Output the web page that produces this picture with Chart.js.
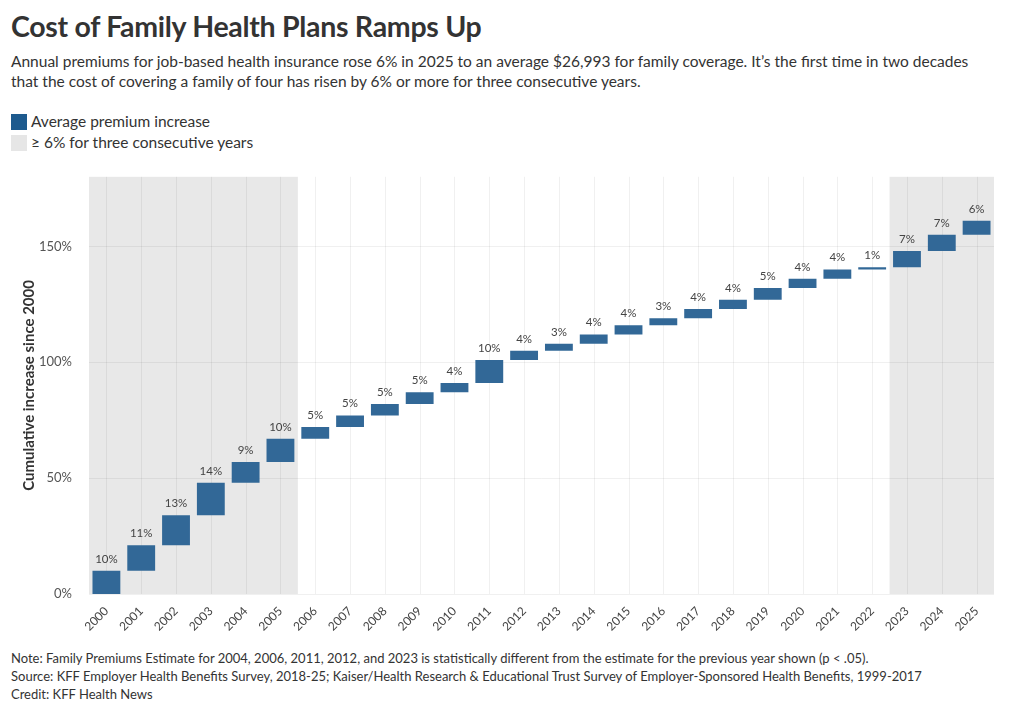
<!DOCTYPE html>
<html>
<head>
<meta charset="utf-8">
<script src="https://cdn.jsdelivr.net/npm/chart.js@4"></script>
<style>
  body { margin: 0; background: #fff; font-family: Lato, "Noto Sans", sans-serif; color: #333; }
  #wrap { position: relative; width: 1020px; height: 713px; }
  h1 { position: absolute; left: 11px; top: 9px; margin: 0; font-size: 28.5px; font-weight: bold; color: #333; letter-spacing: -0.3px; }
  .sub { position: absolute; left: 11px; top: 51px; width: 985px; font-size: 15.5px; line-height: 20px; color: #333; }
  .leg { position: absolute; left: 11px; font-size: 15.5px; color: #333; }
  .leg span { display: inline-block; width: 16px; height: 16px; vertical-align: -3px; margin-right: 4px; }
  .notes { position: absolute; left: 11px; top: 649px; font-size: 13px; line-height: 18px; color: #333; }
  #box { position: absolute; left: 0; top: 160px; width: 1020px; height: 480px; }
</style>
</head>
<body>
<div id="wrap">
  <h1>Cost of Family Health Plans Ramps Up</h1>
  <div class="sub">Annual premiums for job-based health insurance rose 6% in 2025 to an average $26,993 for family coverage. It’s the first time in two decades that the cost of covering a family of four has risen by 6% or more for three consecutive years.</div>
  <div class="leg" style="top:112px"><span style="background:#1d5a8e"></span>Average premium increase</div>
  <div class="leg" style="top:133px"><span style="background:#e6e6e6"></span>≥ 6% for three consecutive years</div>
  <div id="box"><canvas id="c"></canvas></div>
  <div class="notes">Note: Family Premiums Estimate for 2004, 2006, 2011, 2012, and 2023 is statistically different from the estimate for the previous year shown (p &lt; .05).<br>Source: KFF Employer Health Benefits Survey, 2018-25; Kaiser/Health Research &amp; Educational Trust Survey of Employer-Sponsored Health Benefits, 1999-2017<br>Credit: KFF Health News</div>
</div>
<script>
var years = ['2000','2001','2002','2003','2004','2005','2006','2007','2008','2009','2010','2011','2012','2013','2014','2015','2016','2017','2018','2019','2020','2021','2022','2023','2024','2025'];
var startValues = [0,10,21,34,48,57,67,72,77,82,87,91,101,105,108,112,116,119,123,127,132,136,140,141,148,155];
var endValues = [10,21,34,48,57,67,72,77,82,87,91,101,105,108,112,116,119,123,127,132,136,140,141,148,155,161];
var increaseLabels = ['10%','11%','13%','14%','9%','10%','5%','5%','5%','5%','4%','10%','4%','3%','4%','4%','3%','4%','4%','5%','4%','4%','1%','7%','7%','6%'];
var shadedRanges = [['2000','2005'], ['2023','2025']];
var yTicks = [0, 50, 100, 150];

var bars = [];
for (var i = 0; i < years.length; i++) {
  bars.push([startValues[i], endValues[i]]);
}

var shadePlugin = {
  id: 'shade',
  beforeDatasetsDraw: function(chart) {
    var ctx = chart.ctx, x = chart.scales.x, area = chart.chartArea;
    var half = (x.getPixelForValue(1) - x.getPixelForValue(0)) / 2;
    ctx.save();
    ctx.fillStyle = '#e8e8e8';
    shadedRanges.forEach(function(r) {
      var a = x.getPixelForValue(years.indexOf(r[0])) - half;
      var b = x.getPixelForValue(years.indexOf(r[1])) + half;
      ctx.fillRect(a, area.top, b - a, area.bottom - area.top);
    });
    // grid lines go over the shading
    ctx.strokeStyle = 'rgba(0,0,0,0.06)';
    ctx.lineWidth = 1;
    for (var i = 0; i < years.length; i++) {
      var px = Math.round(x.getPixelForValue(i)) + 0.5;
      ctx.beginPath(); ctx.moveTo(px, area.top); ctx.lineTo(px, area.bottom); ctx.stroke();
    }
    yTicks.forEach(function(v) {
      var py = Math.round(chart.scales.y.getPixelForValue(v)) + 0.5;
      ctx.beginPath(); ctx.moveTo(area.left, py); ctx.lineTo(area.right, py); ctx.stroke();
    });
    ctx.restore();
  },
  afterDatasetsDraw: function(chart) {
    var ctx = chart.ctx, meta = chart.getDatasetMeta(0);
    ctx.save();
    ctx.fillStyle = '#444';
    ctx.font = '11.5px Lato, "Noto Sans", sans-serif';
    ctx.textAlign = 'center';
    ctx.textBaseline = 'bottom';
    meta.data.forEach(function(bar, i) {
      ctx.fillText(increaseLabels[i], bar.x, chart.scales.y.getPixelForValue(endValues[i]) - 6);
    });
    ctx.restore();
  }
};

new Chart(document.getElementById('c'), {
  type: 'bar',
  data: {
    labels: years,
    datasets: [{
      label: 'Average premium increase',
      data: bars,
      backgroundColor: '#326897',
      borderSkipped: false,
      barPercentage: 0.8,
      categoryPercentage: 1.0
    }]
  },
  options: {
    responsive: true,
    maintainAspectRatio: false,
    animation: false,
    layout: { padding: { top: 12, right: 26, left: 20, bottom: 0 } },
    plugins: { legend: { display: false }, tooltip: { enabled: false } },
    scales: {
      x: {
        grid: { display: false },
        border: { display: false },
        ticks: { color: '#444', font: { size: 12, family: 'Lato' }, minRotation: 45, maxRotation: 45, padding: 2 },
        afterFit: function(s) { s.height = 46; }
      },
      y: {
        min: 0, max: 180,
        afterBuildTicks: function(s) { s.ticks = yTicks.map(function(v) { return { value: v }; }); },
        grid: { display: false },
        border: { display: false },
        ticks: { color: '#555', font: { size: 13, family: 'Lato' }, padding: 9, callback: function(v) { return v + '%'; } },
        title: { display: true, text: 'Cumulative increase since 2000', color: '#333', font: { size: 15, weight: 'bold', family: 'Lato' }, padding: { top: 0, bottom: 6 } },
        afterFit: function(s) { s.width = 69; }
      }
    }
  },
  plugins: [shadePlugin]
});
</script>
</body>
</html>
